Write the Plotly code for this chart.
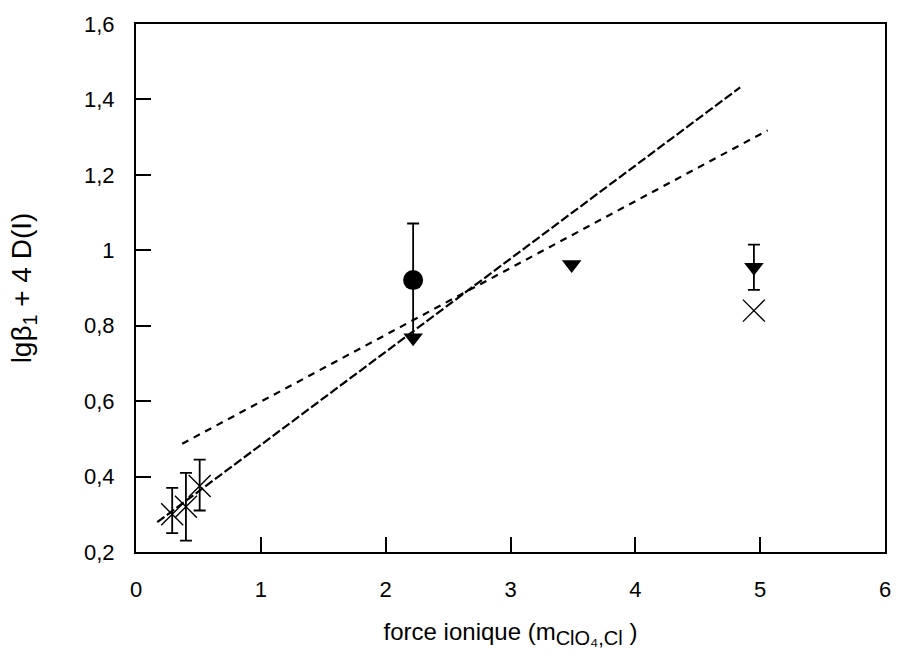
import plotly.graph_objects as go

# Measured points: ionic strength vs lg(beta1) + 4 D(I)
cross_x = [0.29, 0.40, 0.51]
cross_y = [0.30, 0.32, 0.375]
cross_err_plus = [0.07, 0.09, 0.07]
cross_err_minus = [0.05, 0.09, 0.065]

cross_single_x = [4.95]
cross_single_y = [0.84]

tri_x = [2.22, 3.49]
tri_y = [0.768, 0.962]

tri_err_x = [4.95]
tri_err_y = [0.955]
tri_err = [0.06]

circle_x = [2.22]
circle_y = [0.921]
circle_err = [0.15]

# Regression lines (end points)
fit_a_x = [0.17, 4.84]
fit_a_y = [0.279, 1.432]
fit_b_x = [0.37, 5.06]
fit_b_y = [0.487, 1.318]

x_ticks = [0, 1, 2, 3, 4, 5, 6]
x_ticktext = ["0", "1", "2", "3", "4", "5", "6"]
y_ticks = [0.2, 0.4, 0.6, 0.8, 1.0, 1.2, 1.4, 1.6]
y_ticktext = ["0,2", "0,4", "0,6", "0,8", "1", "1,2", "1,4", "1,6"]

FONT = "Liberation Sans, Arial, sans-serif"

fig = go.Figure()

fig.add_trace(go.Scatter(
    x=fit_a_x, y=fit_a_y, mode="lines",
    line=dict(color="black", width=2.2, dash="9px,3px"),
    showlegend=False, hoverinfo="skip"))
fig.add_trace(go.Scatter(
    x=fit_b_x, y=fit_b_y, mode="lines",
    line=dict(color="black", width=2.2, dash="7px,6px"),
    showlegend=False, hoverinfo="skip"))

err_style = dict(color="black", thickness=1.8, width=6)

fig.add_trace(go.Scatter(
    x=cross_x, y=cross_y, mode="markers",
    marker=dict(symbol="x-thin-open", size=22, color="black",
                line=dict(color="black", width=1.4)),
    error_y=dict(type="data", array=cross_err_plus, arrayminus=cross_err_minus,
                 symmetric=False, **err_style),
    showlegend=False))
fig.add_trace(go.Scatter(
    x=cross_single_x, y=cross_single_y, mode="markers",
    marker=dict(symbol="x-thin-open", size=22, color="black",
                line=dict(color="black", width=1.4)),
    showlegend=False))

fig.add_trace(go.Scatter(
    x=circle_x, y=circle_y, mode="markers",
    marker=dict(symbol="circle", size=20, color="black"),
    error_y=dict(type="data", array=circle_err, **err_style),
    showlegend=False))

fig.add_trace(go.Scatter(
    x=tri_x, y=tri_y, mode="markers",
    marker=dict(symbol="triangle-down", size=17, color="black"),
    showlegend=False))
fig.add_trace(go.Scatter(
    x=tri_err_x, y=tri_err_y, mode="markers",
    marker=dict(symbol="triangle-down", size=17, color="black"),
    error_y=dict(type="data", array=tri_err, **err_style),
    showlegend=False))

axis_common = dict(
    showline=True, linecolor="black", linewidth=2, mirror=True,
    ticks="inside", ticklen=15, tickwidth=2, tickcolor="black",
    showgrid=False, zeroline=False,
    tickfont=dict(family=FONT, size=22, color="black"),
)

fig.update_xaxes(
    range=[0, 6], tickvals=x_ticks, ticktext=x_ticktext,
    ticklabelstandoff=17,
    title=dict(text="force ionique (m<sub><span style='font-size:20px'>ClO₄,Cl</span></sub> )",
               font=dict(family=FONT, size=24, color="black"), standoff=22),
    **axis_common)
fig.update_yaxes(
    range=[0.2, 1.6], tickvals=y_ticks, ticktext=y_ticktext,
    ticklabelstandoff=15,
    title=dict(text="lgβ<sub>1</sub> + 4 D(I)",
               font=dict(family=FONT, size=28, color="black"), standoff=44),
    **axis_common)

fig.update_layout(
    width=903, height=661,
    margin=dict(l=136, r=12, t=20, b=109),
    paper_bgcolor="white", plot_bgcolor="white",
    font=dict(family=FONT, color="black"),
)

fig.write_html("out.html")
